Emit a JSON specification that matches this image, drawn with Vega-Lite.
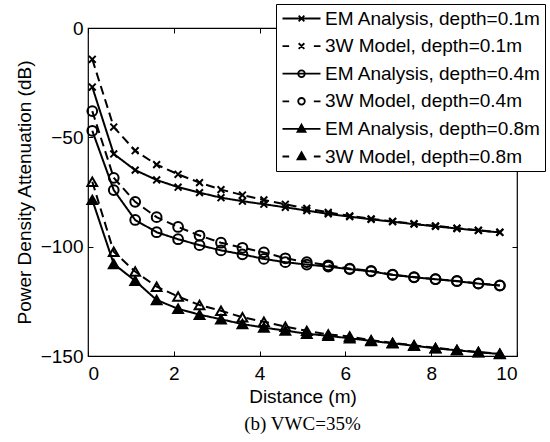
{
  "$schema": "https://vega.github.io/schema/vega-lite/v6.json",
  "width": 429,
  "height": 328,
  "autosize": {"type": "none"},
  "padding": {"left": 88, "top": 28, "right": 33, "bottom": 86},
  "background": "white",
  "title": {"text": "(b) VWC=35%", "orient": "bottom", "font": "Liberation Serif", "fontSize": 19, "fontWeight": "normal", "color": "black", "anchor": "middle", "offset": 9},
  "data": {"values": [
    {"s": "EM Analysis, depth=0.1m", "d": 0.1, "v": -27}, {"s": "EM Analysis, depth=0.1m", "d": 0.6, "v": -57.6}, {"s": "EM Analysis, depth=0.1m", "d": 1.1, "v": -65}, {"s": "EM Analysis, depth=0.1m", "d": 1.6, "v": -69.5}, {"s": "EM Analysis, depth=0.1m", "d": 2.1, "v": -72.8}, {"s": "EM Analysis, depth=0.1m", "d": 2.6, "v": -75.3}, {"s": "EM Analysis, depth=0.1m", "d": 3.1, "v": -77.6}, {"s": "EM Analysis, depth=0.1m", "d": 3.6, "v": -79.2}, {"s": "EM Analysis, depth=0.1m", "d": 4.1, "v": -80.6}, {"s": "EM Analysis, depth=0.1m", "d": 4.6, "v": -82}, {"s": "EM Analysis, depth=0.1m", "d": 5.1, "v": -83.5}, {"s": "EM Analysis, depth=0.1m", "d": 5.6, "v": -85}, {"s": "EM Analysis, depth=0.1m", "d": 6.1, "v": -86.3}, {"s": "EM Analysis, depth=0.1m", "d": 6.6, "v": -87.5}, {"s": "EM Analysis, depth=0.1m", "d": 7.1, "v": -88.6}, {"s": "EM Analysis, depth=0.1m", "d": 7.6, "v": -89.7}, {"s": "EM Analysis, depth=0.1m", "d": 8.1, "v": -90.7}, {"s": "EM Analysis, depth=0.1m", "d": 8.6, "v": -91.7}, {"s": "EM Analysis, depth=0.1m", "d": 9.1, "v": -92.6}, {"s": "EM Analysis, depth=0.1m", "d": 9.6, "v": -93.5},
    {"s": "3W Model, depth=0.1m", "d": 0.1, "v": -14.3}, {"s": "3W Model, depth=0.1m", "d": 0.6, "v": -45.3}, {"s": "3W Model, depth=0.1m", "d": 1.1, "v": -56.1}, {"s": "3W Model, depth=0.1m", "d": 1.6, "v": -62.5}, {"s": "3W Model, depth=0.1m", "d": 2.1, "v": -66.9}, {"s": "3W Model, depth=0.1m", "d": 2.6, "v": -70.7}, {"s": "3W Model, depth=0.1m", "d": 3.1, "v": -73.9}, {"s": "3W Model, depth=0.1m", "d": 3.6, "v": -76.4}, {"s": "3W Model, depth=0.1m", "d": 4.1, "v": -78.6}, {"s": "3W Model, depth=0.1m", "d": 4.6, "v": -80.6}, {"s": "3W Model, depth=0.1m", "d": 5.1, "v": -82.5}, {"s": "3W Model, depth=0.1m", "d": 5.6, "v": -84.3}, {"s": "3W Model, depth=0.1m", "d": 6.1, "v": -85.9}, {"s": "3W Model, depth=0.1m", "d": 6.6, "v": -87.3}, {"s": "3W Model, depth=0.1m", "d": 7.1, "v": -88.4}, {"s": "3W Model, depth=0.1m", "d": 7.6, "v": -89.5}, {"s": "3W Model, depth=0.1m", "d": 8.1, "v": -90.5}, {"s": "3W Model, depth=0.1m", "d": 8.6, "v": -91.5}, {"s": "3W Model, depth=0.1m", "d": 9.1, "v": -92.5}, {"s": "3W Model, depth=0.1m", "d": 9.6, "v": -93.4},
    {"s": "EM Analysis, depth=0.4m", "d": 0.1, "v": -47}, {"s": "EM Analysis, depth=0.4m", "d": 0.6, "v": -74.1}, {"s": "EM Analysis, depth=0.4m", "d": 1.1, "v": -87.8}, {"s": "EM Analysis, depth=0.4m", "d": 1.6, "v": -93.4}, {"s": "EM Analysis, depth=0.4m", "d": 2.1, "v": -96.6}, {"s": "EM Analysis, depth=0.4m", "d": 2.6, "v": -99.3}, {"s": "EM Analysis, depth=0.4m", "d": 3.1, "v": -101.7}, {"s": "EM Analysis, depth=0.4m", "d": 3.6, "v": -103.5}, {"s": "EM Analysis, depth=0.4m", "d": 4.1, "v": -105.6}, {"s": "EM Analysis, depth=0.4m", "d": 4.6, "v": -107.1}, {"s": "EM Analysis, depth=0.4m", "d": 5.1, "v": -108.2}, {"s": "EM Analysis, depth=0.4m", "d": 5.6, "v": -109.1}, {"s": "EM Analysis, depth=0.4m", "d": 6.1, "v": -110.3}, {"s": "EM Analysis, depth=0.4m", "d": 6.6, "v": -111.3}, {"s": "EM Analysis, depth=0.4m", "d": 7.1, "v": -112.9}, {"s": "EM Analysis, depth=0.4m", "d": 7.6, "v": -114}, {"s": "EM Analysis, depth=0.4m", "d": 8.1, "v": -114.9}, {"s": "EM Analysis, depth=0.4m", "d": 8.6, "v": -115.8}, {"s": "EM Analysis, depth=0.4m", "d": 9.1, "v": -116.9}, {"s": "EM Analysis, depth=0.4m", "d": 9.6, "v": -117.8},
    {"s": "3W Model, depth=0.4m", "d": 0.1, "v": -38}, {"s": "3W Model, depth=0.4m", "d": 0.6, "v": -68.5}, {"s": "3W Model, depth=0.4m", "d": 1.1, "v": -79.5}, {"s": "3W Model, depth=0.4m", "d": 1.6, "v": -86.5}, {"s": "3W Model, depth=0.4m", "d": 2.1, "v": -91}, {"s": "3W Model, depth=0.4m", "d": 2.6, "v": -94.9}, {"s": "3W Model, depth=0.4m", "d": 3.1, "v": -98.2}, {"s": "3W Model, depth=0.4m", "d": 3.6, "v": -100.5}, {"s": "3W Model, depth=0.4m", "d": 4.1, "v": -102.6}, {"s": "3W Model, depth=0.4m", "d": 4.6, "v": -105.3}, {"s": "3W Model, depth=0.4m", "d": 5.1, "v": -107.1}, {"s": "3W Model, depth=0.4m", "d": 5.6, "v": -108.5}, {"s": "3W Model, depth=0.4m", "d": 6.1, "v": -110}, {"s": "3W Model, depth=0.4m", "d": 6.6, "v": -111.1}, {"s": "3W Model, depth=0.4m", "d": 7.1, "v": -112.8}, {"s": "3W Model, depth=0.4m", "d": 7.6, "v": -113.9}, {"s": "3W Model, depth=0.4m", "d": 8.1, "v": -114.8}, {"s": "3W Model, depth=0.4m", "d": 8.6, "v": -115.7}, {"s": "3W Model, depth=0.4m", "d": 9.1, "v": -116.8}, {"s": "3W Model, depth=0.4m", "d": 9.6, "v": -117.7},
    {"s": "EM Analysis, depth=0.8m", "d": 0.1, "v": -78.6}, {"s": "EM Analysis, depth=0.8m", "d": 0.6, "v": -107.9}, {"s": "EM Analysis, depth=0.8m", "d": 1.1, "v": -115.6}, {"s": "EM Analysis, depth=0.8m", "d": 1.6, "v": -124.4}, {"s": "EM Analysis, depth=0.8m", "d": 2.1, "v": -128.4}, {"s": "EM Analysis, depth=0.8m", "d": 2.6, "v": -131.1}, {"s": "EM Analysis, depth=0.8m", "d": 3.1, "v": -133.2}, {"s": "EM Analysis, depth=0.8m", "d": 3.6, "v": -135.4}, {"s": "EM Analysis, depth=0.8m", "d": 4.1, "v": -137}, {"s": "EM Analysis, depth=0.8m", "d": 4.6, "v": -138.4}, {"s": "EM Analysis, depth=0.8m", "d": 5.1, "v": -139.8}, {"s": "EM Analysis, depth=0.8m", "d": 5.6, "v": -140.8}, {"s": "EM Analysis, depth=0.8m", "d": 6.1, "v": -141.9}, {"s": "EM Analysis, depth=0.8m", "d": 6.6, "v": -143.1}, {"s": "EM Analysis, depth=0.8m", "d": 7.1, "v": -144.2}, {"s": "EM Analysis, depth=0.8m", "d": 7.6, "v": -145.3}, {"s": "EM Analysis, depth=0.8m", "d": 8.1, "v": -146.5}, {"s": "EM Analysis, depth=0.8m", "d": 8.6, "v": -147.4}, {"s": "EM Analysis, depth=0.8m", "d": 9.1, "v": -148.3}, {"s": "EM Analysis, depth=0.8m", "d": 9.6, "v": -149.1},
    {"s": "3W Model, depth=0.8m", "d": 0.1, "v": -70.3}, {"s": "3W Model, depth=0.8m", "d": 0.6, "v": -102.3}, {"s": "3W Model, depth=0.8m", "d": 1.1, "v": -111.4}, {"s": "3W Model, depth=0.8m", "d": 1.6, "v": -118.3}, {"s": "3W Model, depth=0.8m", "d": 2.1, "v": -122.8}, {"s": "3W Model, depth=0.8m", "d": 2.6, "v": -126.7}, {"s": "3W Model, depth=0.8m", "d": 3.1, "v": -129.3}, {"s": "3W Model, depth=0.8m", "d": 3.6, "v": -132.3}, {"s": "3W Model, depth=0.8m", "d": 4.1, "v": -134.3}, {"s": "3W Model, depth=0.8m", "d": 4.6, "v": -136.6}, {"s": "3W Model, depth=0.8m", "d": 5.1, "v": -138.5}, {"s": "3W Model, depth=0.8m", "d": 5.6, "v": -140.1}, {"s": "3W Model, depth=0.8m", "d": 6.1, "v": -141.1}, {"s": "3W Model, depth=0.8m", "d": 6.6, "v": -142.8}, {"s": "3W Model, depth=0.8m", "d": 7.1, "v": -144}, {"s": "3W Model, depth=0.8m", "d": 7.6, "v": -145.1}, {"s": "3W Model, depth=0.8m", "d": 8.1, "v": -146.3}, {"s": "3W Model, depth=0.8m", "d": 8.6, "v": -147.2}, {"s": "3W Model, depth=0.8m", "d": 9.1, "v": -148.2}, {"s": "3W Model, depth=0.8m", "d": 9.6, "v": -149}
  ]},
  "layer": [
    {
      "mark": {"type": "line", "color": "black", "strokeWidth": 2},
      "encoding": {
        "x": {"field": "d", "type": "quantitative", "scale": {"domain": [0, 10], "nice": false, "zero": false},
              "axis": {"orient": "bottom", "values": [0, 2, 4, 6, 8, 10], "title": "Distance (m)", "tickSize": -5, "labelPadding": 13, "titlePadding": 4}},
        "y": {"field": "v", "type": "quantitative", "scale": {"domain": [-150, 0], "nice": false, "zero": false},
              "axis": {"orient": "left", "values": [-150, -100, -50, 0], "title": "Power Density Attenuation (dB)", "tickSize": -5, "labelPadding": 10, "titlePadding": 6}},
        "detail": {"field": "s", "type": "nominal"},
        "strokeDash": {"field": "s", "type": "nominal", "legend": null,
          "scale": {"domain": ["EM Analysis, depth=0.1m", "3W Model, depth=0.1m", "EM Analysis, depth=0.4m", "3W Model, depth=0.4m", "EM Analysis, depth=0.8m", "3W Model, depth=0.8m"],
                    "range": [[1, 0], [9, 5], [1, 0], [9, 5], [1, 0], [9, 5]]}}
      }
    },
    {
      "mark": {"type": "point", "filled": false, "color": "black", "strokeWidth": 2, "size": 95, "opacity": 1},
      "encoding": {
        "x": {"field": "d", "type": "quantitative", "axis": null},
        "y": {"field": "v", "type": "quantitative", "axis": null},
        "shape": {"field": "s", "type": "nominal", "legend": null,
          "scale": {"domain": ["EM Analysis, depth=0.1m", "3W Model, depth=0.1m", "EM Analysis, depth=0.4m", "3W Model, depth=0.4m", "EM Analysis, depth=0.8m", "3W Model, depth=0.8m"],
                    "range": ["M-0.7,-0.7L0.7,0.7M-0.7,0.7L0.7,-0.7", "M-0.7,-0.7L0.7,0.7M-0.7,0.7L0.7,-0.7", "circle", "circle", "triangle-up", "triangle-up"]}}
      }
    },
    {
      "transform": [{"filter": "datum.s == 'EM Analysis, depth=0.8m'"}],
      "mark": {"type": "point", "filled": true, "color": "black", "shape": "triangle-up", "size": 95, "opacity": 1},
      "encoding": {
        "x": {"field": "d", "type": "quantitative", "axis": null},
        "y": {"field": "v", "type": "quantitative", "axis": null}
      }
    },
    {
      "transform": [{"filter": "false"}],
      "mark": {"type": "point", "filled": false, "color": "black", "strokeWidth": 1.8, "opacity": 1},
      "encoding": {
        "shape": {"field": "s", "type": "nominal",
          "scale": {"domain": ["EM Analysis, depth=0.1m", "3W Model, depth=0.1m", "EM Analysis, depth=0.4m", "3W Model, depth=0.4m", "EM Analysis, depth=0.8m", "3W Model, depth=0.8m"],
                    "range": [
                      "M-2,0H2M-0.3,-0.3L0.3,0.3M-0.3,0.3L0.3,-0.3",
                      "M-2,0H-1.3M1.3,0H2M-0.3,-0.3L0.3,0.3M-0.3,0.3L0.3,-0.3",
                      "M-2,0H2M0.35,0A0.35,0.35,0,1,1,-0.35,0A0.35,0.35,0,1,1,0.35,0Z",
                      "M-2,0H-1.3M1.3,0H2M0.35,0A0.35,0.35,0,1,1,-0.35,0A0.35,0.35,0,1,1,0.35,0Z",
                      "M-2,0H2M0,-0.45L0.42,0.3L-0.42,0.3ZM0,-0.2L0.18,0.12L-0.18,0.12Z",
                      "M-2,0H-1.3M1.3,0H2M0,-0.45L0.42,0.3L-0.42,0.3ZM0,-0.2L0.18,0.12L-0.18,0.12Z"
                    ]},
          "legend": {"title": null, "orient": "none", "legendX": 188, "legendY": -24,
                     "strokeColor": "black", "fillColor": "white", "padding": 4,
                     "symbolSize": 361, "symbolOffset": 11, "labelOffset": 13, "rowPadding": 6.6,
                     "labelFont": "Liberation Sans", "labelFontSize": 19, "labelColor": "black", "labelLimit": 0,
                     "symbolStrokeColor": "black", "symbolStrokeWidth": 1.8, "symbolOpacity": 1}}
      }
    },
    {
      "mark": {"type": "point", "opacity": 0},
      "encoding": {
        "x": {"field": "d", "type": "quantitative",
              "axis": {"orient": "top", "values": [0, 2, 4, 6, 8, 10], "labels": false, "title": null, "tickSize": -5}},
        "y": {"field": "v", "type": "quantitative",
              "axis": {"orient": "right", "values": [-150, -100, -50, 0], "labels": false, "title": null, "tickSize": -5}}
      }
    }
  ],
  "resolve": {"scale": {"shape": "independent"}, "axis": {"x": "independent", "y": "independent"}},
  "config": {
    "view": {"stroke": "black", "strokeWidth": 1.2},
    "axis": {"domain": false, "grid": false, "tickColor": "black", "tickWidth": 1, "labelFont": "Liberation Sans", "labelFontSize": 19, "labelColor": "black",
             "titleFont": "Liberation Sans", "titleFontSize": 19, "titleFontWeight": "normal", "titleColor": "black"}
  }
}
